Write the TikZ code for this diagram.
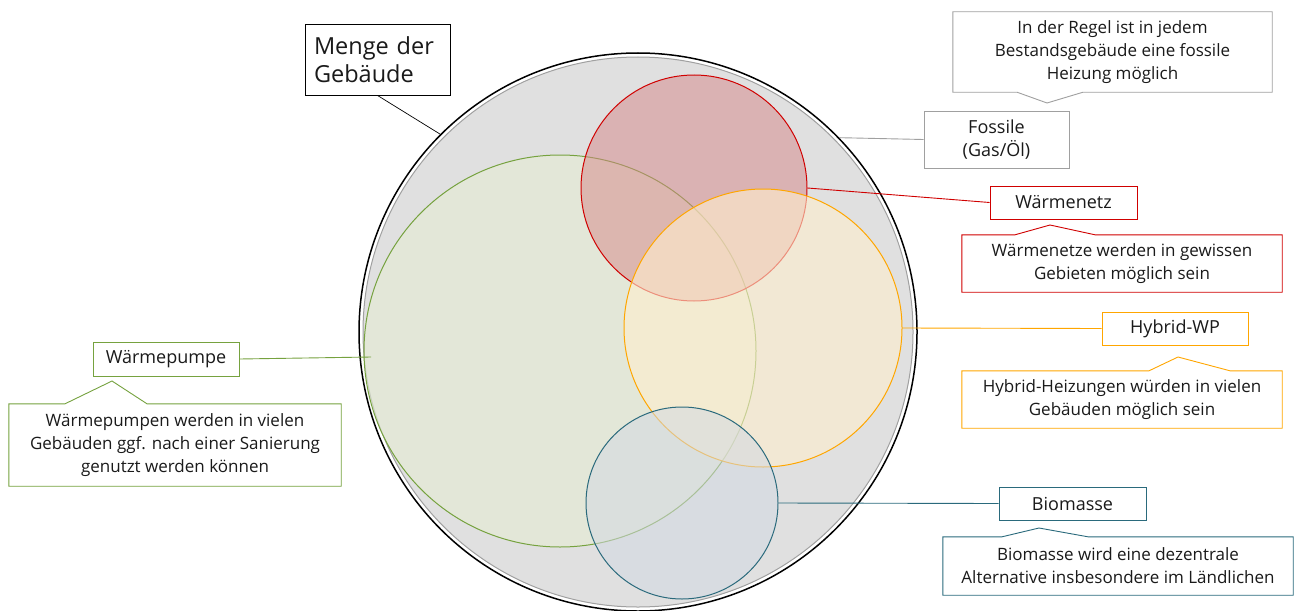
\documentclass[tikz,border=0pt]{standalone}
\usepackage{fontspec}
\setmainfont{Open Sans}
\usetikzlibrary{calc}
\definecolor{txt}{HTML}{1A1A1A}
\definecolor{grayfill}{HTML}{E0E0E0}
\definecolor{graystroke}{HTML}{A0A0A0}
\definecolor{grn}{HTML}{76A23F}
\definecolor{grnfill}{RGB}{229,237,212}
\definecolor{rd}{HTML}{D00000}
\definecolor{rdfill}{RGB}{214,134,136}
\definecolor{org}{HTML}{FFA600}
\definecolor{orgfill}{RGB}{255,238,205}
\definecolor{tl}{HTML}{2A6A7C}
\definecolor{tlfill}{RGB}{211,217,226}
\begin{document}
\begin{tikzpicture}[x=1pt,y=-1pt,
  set/.style={circle, inner sep=0pt, line width=1pt},
  lbl/.style={rectangle, draw, inner sep=0pt, align=center, text=txt, fill=white, line width=0.9pt,
     font=\fontsize{18}{23}\selectfont},
  callout/.style={rectangle, inner sep=0pt, align=center, text=txt,
     font=\fontsize{17}{23}\selectfont},
  outline/.style={line width=0.9pt, fill=white},
  conn/.style={line width=0.9pt}]
\useasboundingbox (0,0) rectangle (1300,610);

% sets
\node[set, draw=black, line width=1.5pt, minimum size=558pt] (outer) at (638,332) {};
\node[set, draw=graystroke, fill=grayfill, minimum size=550pt] (inner) at (638,332) {};
\node[set, draw=grn, fill=grnfill, fill opacity=0.6, minimum size=392pt] (green) at (560,351) {};
\node[set, draw=rd, fill=rdfill, fill opacity=0.5, minimum size=226pt] (red) at (694,188) {};
\node[set, draw=org, fill=orgfill, fill opacity=0.6, minimum size=278pt] (orange) at (763,328) {};
\node[set, draw=tl, fill=tlfill, fill opacity=0.55, minimum size=192pt] (blue) at (682,503) {};

% Menge der Gebaeude
\node[lbl, draw=black, align=left, minimum width=145pt, minimum height=71pt,
      font=\fontsize{23.5}{28}\selectfont, text width=127pt] (menge) at (377.5,59.5) {Menge der\\Geb\"aude};
\draw[conn, black, line width=0.7pt] (menge.south) -- (outer.135);

% Fossile
\node[lbl, draw=graystroke, minimum width=145pt, minimum height=57pt] (foss) at (996.5,139.5) {Fossile\\(Gas/\"Ol)};
\draw[conn, graystroke] (outer.44) -- (foss.west);
\node[callout, minimum width=319pt, minimum height=80pt] (fossc) at (1112.5,52) {};
\draw[graystroke, outline] (fossc.north west) -- (fossc.north east) -- (fossc.south east)
  -- (1083,0 |- fossc.south) -- (1047,103) -- (1017,0 |- fossc.south) -- (fossc.south west) -- cycle;
\node[callout, minimum width=319pt, minimum height=80pt] at (1112.5,52)
  {In der Regel ist in jedem\\Bestandsgeb\"aude eine fossile\\Heizung m\"oglich};

% Waermenetz
\node[lbl, draw=rd, minimum width=147pt, minimum height=33pt] (wn) at (1063.5,202.5) {W\"armenetz};
\draw[conn, rd] (red.east) -- (wn.west);
\node[callout, minimum width=320pt, minimum height=57pt] (wnc) at (1122,263.5) {};
\draw[rd, outline] (wnc.north west) -- (1015,0 |- wnc.north) -- (1050,225) -- (1095,0 |- wnc.north)
  -- (wnc.north east) -- (wnc.south east) -- (wnc.south west) -- cycle;
\node[callout, minimum width=320pt, minimum height=57pt] at (1122,263.5)
  {W\"armenetze werden in gewissen\\Gebieten m\"oglich sein};

% Hybrid-WP
\node[lbl, draw=org, minimum width=146pt, minimum height=33pt] (hy) at (1175,328.5) {Hybrid-WP};
\draw[conn, org] (orange.east) -- (hy.west);
\node[callout, minimum width=320pt, minimum height=57pt] (hyc) at (1122,399.5) {};
\draw[org, outline] (hyc.north west) -- (1149,0 |- hyc.north) -- (1178,357) -- (1230,0 |- hyc.north)
  -- (hyc.north east) -- (hyc.south east) -- (hyc.south west) -- cycle;
\node[callout, minimum width=320pt, minimum height=57pt] at (1122,399.5)
  {Hybrid-Heizungen w\"urden in vielen\\Geb\"auden m\"oglich sein};

% Biomasse
\node[lbl, draw=tl, minimum width=147pt, minimum height=33pt] (bio) at (1072.5,503.5) {Biomasse};
\draw[conn, tl] (blue.east) -- (bio.west);
\node[callout, minimum width=350pt, minimum height=58pt] (bioc) at (1118,566) {};
\draw[tl, outline] (bioc.north west) -- (1002,0 |- bioc.north) -- (1039,528) -- (1088,0 |- bioc.north)
  -- (bioc.north east) -- (bioc.south east) -- (bioc.south west) -- cycle;
\node[callout, minimum width=350pt, minimum height=58pt] at (1118,566)
  {Biomasse wird eine dezentrale\\Alternative insbesondere im L\"andlichen};

% Waermepumpe
\coordinate (wpend) at (371,357);
\node[lbl, draw=grn, minimum width=146pt, minimum height=34pt] (wp) at (166,359) {W\"armepumpe};
\draw[conn, grn] (wp.east) -- (wpend);
\node[callout, minimum width=332pt, minimum height=82pt] (wpc) at (175,445) {};
\draw[grn, outline] (wpc.north west) -- (65,0 |- wpc.north) -- (112,381) -- (147,0 |- wpc.north)
  -- (wpc.north east) -- (wpc.south east) -- (wpc.south west) -- cycle;
\node[callout, minimum width=332pt, minimum height=82pt] at (175,445)
  {W\"armepumpen werden in vielen\\Geb\"auden ggf. nach einer Sanierung\\genutzt werden k\"onnen};
\end{tikzpicture}
\end{document}
